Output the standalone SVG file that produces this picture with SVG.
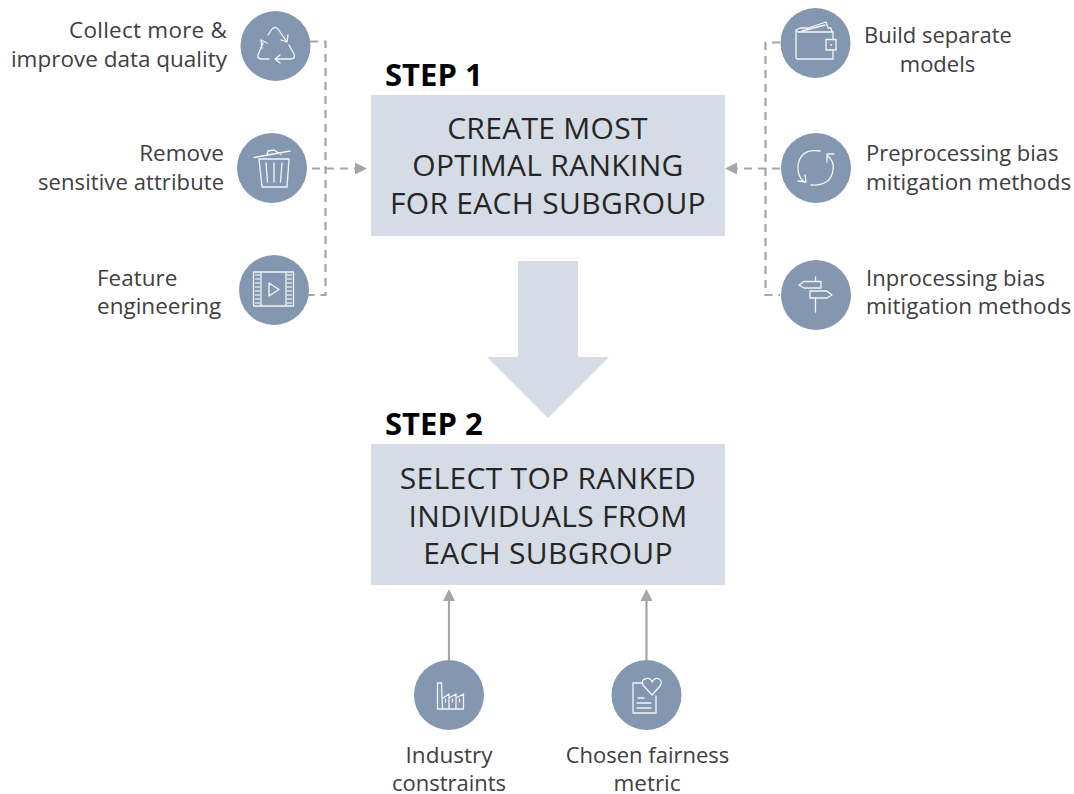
<svg xmlns="http://www.w3.org/2000/svg" width="1074" height="794" viewBox="0 0 1074 794">
<style>
text{font-family:"Open Sans","Noto Sans","Liberation Sans",sans-serif;fill:#404040}
.l{font-size:22.5px}
.n{font-size:22px}
.b{font-size:30px;letter-spacing:.3px;fill:#262626}
.s{font-size:31px;font-weight:700;fill:#000}
.m{text-anchor:middle}
.e{text-anchor:end}
.c{fill:#8497B0}
.box{fill:#D6DCE5}
.i{fill:none;stroke:#fff;stroke-width:1.3;stroke-linejoin:round;stroke-linecap:round;opacity:.9}
.d{fill:none;stroke:#A6A6A6;stroke-width:2.2;stroke-dasharray:8 6}
.a{fill:none;stroke:#A6A6A6;stroke-width:2.2}
</style>
<defs>
<marker id="ah" markerUnits="userSpaceOnUse" markerWidth="12" markerHeight="12" refX="0" refY="6" orient="auto"><path d="M0 0L12 6L0 12Z" fill="#A6A6A6"/></marker>
</defs>
<g id="step1"><text class="s" x="385" y="86">STEP 1</text><rect class="box" x="371" y="95" width="354" height="141"/>
<text class="b m" x="547.500" y="139">CREATE MOST</text><text class="b m" x="548" y="176">OPTIMAL RANKING</text><text class="b m" x="548" y="214">FOR EACH SUBGROUP</text></g>
<g id="step2"><text class="s" x="385" y="435">STEP 2</text><rect class="box" x="371" y="444" width="354" height="141"/>
<text class="b m" x="548" y="489">SELECT TOP RANKED</text><text class="b m" x="548" y="527">INDIVIDUALS FROM</text><text class="b m" x="548" y="564">EACH SUBGROUP</text></g>
<g id="big-arrow"><path class="box" d="M518 261H578V357H609L548 418L487 357H518Z"/></g>
<g id="connectors">
<path class="d" d="M310 41.500H325.500V295H276"/>
<path class="d" d="M312 168.500H355" marker-end="url(#ah)"/>
<path class="d" d="M780 42.500H765.500V295H780"/>
<path class="d" d="M780 168.500H737" marker-end="url(#ah)"/>
<path class="a" d="M449 660V601" marker-end="url(#ah)"/>
<path class="a" d="M646.500 660V601" marker-end="url(#ah)"/>
</g>
<g id="n-collect"><circle class="c" cx="275.500" cy="46" r="35"/>
<path class="i" d="M268 35L272 29Q275 26 278 29L287 42M281 40L287 42L288 35M261 40L267 43M261 40L262 48M263 43L258 55Q257 59 262 59H269M275 59H290Q296 59 294 54L289 45M280 55L275 59L280 63"/>
<text class="l e" x="227" y="38" textLength="158">Collect more &amp;</text><text class="l e" x="227" y="67">improve data quality</text></g>
<g id="n-remove"><circle class="c" cx="272" cy="168" r="35"/>
<path class="i" d="M254 157.500L290 151M259 159H289L287 187H262ZM266 163L267.500 182M274 163V182M282 163L280.500 182M267 155L268 151L274 150L281 154.500"/>
<text class="l e" x="224" y="161">Remove</text><text class="n e" x="224" y="190" textLength="186">sensitive attribute</text></g>
<g id="n-feature"><circle class="c" cx="274" cy="290" r="35"/>
<path class="i" d="M253.500 272H293.500V306H253.500ZM261 272V306M286 272V306M269 283L279 289.500L269 296Z"/>
<path d="M255 275H260M255 279H260M255 283H260M255 287H260M255 291H260M255 295H260M255 299H260M255 303H260M287 275H292M287 279H292M287 283H292M287 287H292M287 291H292M287 295H292M287 299H292M287 303H292" stroke="#fff" stroke-width="1.500" opacity=".7"/>
<text class="l" x="97" y="286">Feature</text><text class="l" x="97" y="314">engineering</text></g>
<g id="n-build"><circle class="c" cx="815.500" cy="43" r="35"/>
<path class="i" d="M796 30V57Q796 59 798 59H833V50M833 39V32H798Q796 31 796 30M796 30L800 28H808L826 22L828 28H831L832 32M802 31L825 25M826 39.500H836V50H826ZM830.500 45H831.500"/>
<text class="n" x="864" y="43">Build separate</text><text class="n m" x="937.500" y="72">models</text></g>
<g id="n-pre"><circle class="c" cx="816" cy="168" r="35"/>
<path class="i" d="M820 151Q801 148 798 165Q797 176 804 182M827 155Q835 162 833 170Q831 186 811 185M828 154H834M827 154V162M798 181L806 182L805 175"/>
<text class="n" x="866" y="161">Preprocessing bias</text><text class="l" x="866" y="190">mitigation methods</text></g>
<g id="n-in"><circle class="c" cx="816" cy="295" r="35"/>
<path class="i" d="M815.500 277V281M815.500 298V312M799 285L804 281.500H821V288H804ZM810 291H827L832 295L827 298H810Z"/>
<text class="n" x="866" y="286" textLength="179">Inprocessing bias</text><text class="l" x="866" y="314">mitigation methods</text></g>
<g id="n-industry"><circle class="c" cx="449" cy="695" r="35"/>
<path class="i" d="M437.500 709V683H441.500L442.500 709ZM437.500 709H463.500V694L456 698V694L449 698V694L443 698M449 698V709M456 698V709M445.500 699V702M452.500 699V702M459.500 699V702"/>
<text class="l m" x="449" y="763">Industry</text><text class="n m" x="449" y="791">constraints</text></g>
<g id="n-fairness"><circle class="c" cx="646.500" cy="695" r="35"/>
<path class="i" d="M642 683H633V713H656V696M638 698H644M637 703H651M637 708H651M652 695L643 685Q641 680 645 679Q650 677 652 682Q655 677 659 679Q663 681 660 686Z"/>
<text class="n m" x="647.500" y="763">Chosen fairness</text><text class="l m" x="647" y="791">metric</text></g>
</svg>
